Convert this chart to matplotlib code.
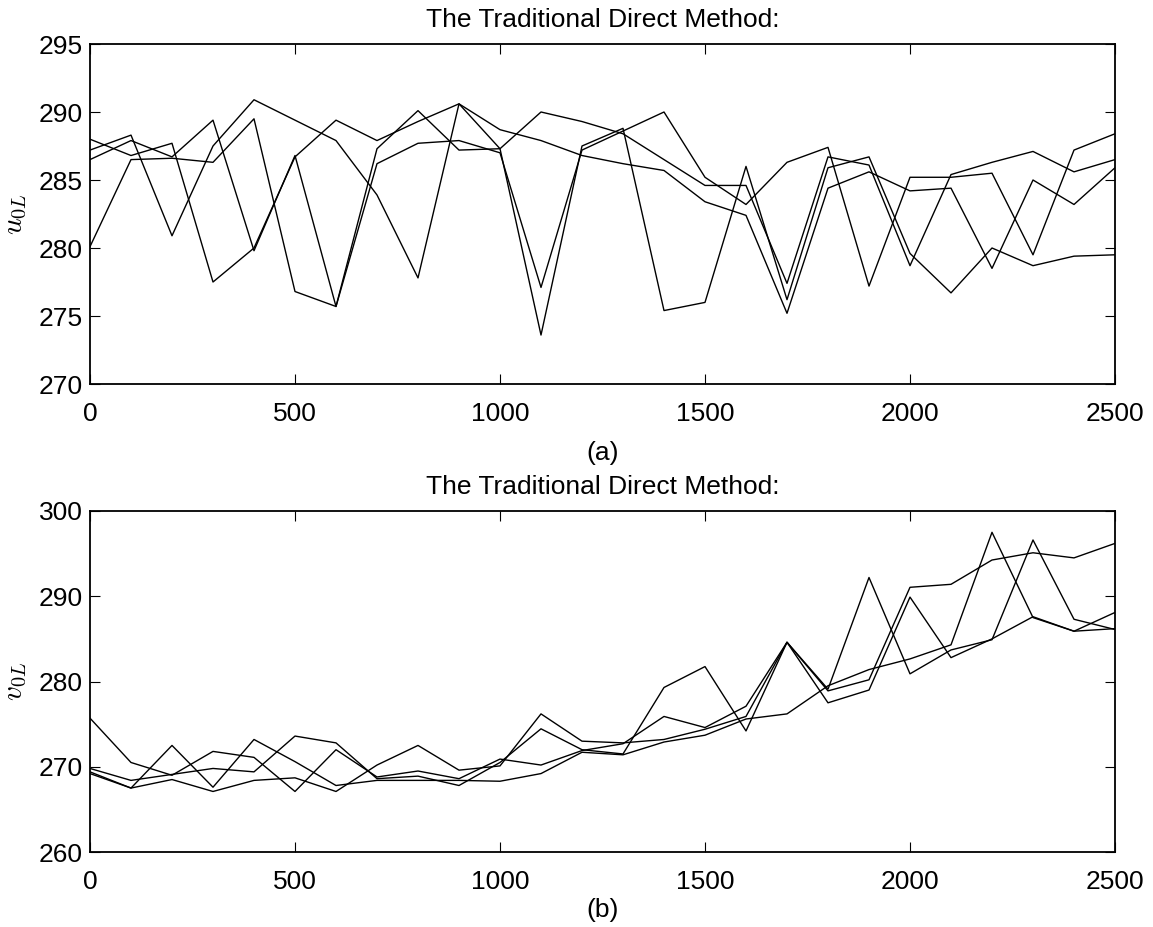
import matplotlib
matplotlib.use("Agg")
import matplotlib.pyplot as plt
import numpy as np

plt.rcParams['font.family'] = ['Liberation Sans', 'DejaVu Sans']
plt.rcParams['mathtext.fontset'] = 'cm'

# sample times
steps = list(range(0, 2600, 100))

# panel (a): u_0L estimates, four runs
u_run1 = [288.0, 286.8, 287.7, 277.5, 280.0, 286.7, 289.4, 287.9, 289.3, 290.6,
          288.7, 287.9, 286.8, 286.2, 285.7, 283.4, 282.4, 275.2, 284.4, 285.6,
          284.2, 284.4, 278.5, 285.0, 283.2, 285.9]
u_run2 = [287.2, 288.3, 280.9, 287.5, 290.9, 289.4, 287.9, 283.9, 277.8, 290.6,
          287.3, 290.0, 289.3, 288.4, 286.5, 284.6, 284.6, 277.4, 286.7, 286.1,
          278.7, 285.4, 286.3, 287.1, 285.6, 286.5]
u_run3 = [286.5, 287.9, 286.7, 289.4, 279.8, 286.8, 275.7, 287.3, 290.1, 287.2,
          287.3, 273.6, 287.5, 288.8, 275.4, 276.0, 286.0, 276.2, 285.9, 286.7,
          279.6, 276.7, 280.0, 278.7, 279.4, 279.5]
u_run4 = [280.1, 286.5, 286.6, 286.3, 289.5, 276.8, 275.7, 286.2, 287.7, 287.9,
          287.0, 277.1, 287.2, 288.6, 290.0, 285.2, 283.2, 286.3, 287.4, 277.2,
          285.2, 285.2, 285.5, 279.5, 287.2, 288.4]

# panel (b): v_0L estimates, four runs
v_run1 = [275.7, 270.5, 269.0, 271.8, 271.1, 267.1, 272.0, 268.8, 269.5, 268.6,
          270.9, 270.2, 271.9, 272.7, 275.9, 274.6, 277.1, 284.6, 279.1, 292.2,
          280.9, 283.7, 284.9, 296.6, 287.3, 286.1]
v_run2 = [269.8, 268.4, 269.1, 269.8, 269.4, 273.6, 272.8, 268.6, 268.9, 267.8,
          270.5, 274.45, 272.0, 271.5, 279.3, 281.75, 274.2, 284.6, 278.9, 280.2,
          291.05, 291.4, 294.25, 295.1, 294.5, 296.2]
v_run3 = [269.4, 267.5, 272.5, 267.6, 273.2, 270.6, 267.8, 268.4, 268.4, 268.4,
          268.3, 269.2, 271.7, 271.4, 272.9, 273.7, 275.6, 276.2, 279.5, 281.4,
          282.65, 284.3, 297.5, 287.5, 285.9, 288.1]
v_run4 = [269.2, 267.5, 268.5, 267.1, 268.4, 268.7, 267.1, 270.2, 272.5, 269.6,
          270.1, 276.2, 273.0, 272.8, 273.2, 274.4, 275.9, 284.6, 277.5, 279.0,
          289.9, 282.8, 285.0, 287.6, 285.9, 286.2]

title_text = "The Traditional Direct Method:"
x_ticks = [0, 500, 1000, 1500, 2000, 2500]
u_ticks = [270, 275, 280, 285, 290, 295]
v_ticks = [260, 270, 280, 290, 300]

W, H = 1153, 927
fig = plt.figure(figsize=(W / 100, H / 100), dpi=100)
ax1 = fig.add_axes([90 / W, 1 - 384 / H, 1025 / W, 340 / H])
ax2 = fig.add_axes([90 / W, 1 - 852 / H, 1025 / W, 341 / H])

FS = 19


def style(ax, runs, yticks, ylim, ylabel, xlabel, xlabelpad):
    for r in runs:
        ax.plot(steps, r, color='black', linewidth=1.0)
    ax.set_xlim(0, 2500)
    ax.set_ylim(*ylim)
    ax.set_xticks(x_ticks)
    ax.set_yticks(yticks)
    ax.tick_params(direction='in', length=7.5, width=0.8, top=True, right=True,
                   labelsize=FS, colors='black')
    ax.tick_params(axis='x', pad=13)
    ax.tick_params(axis='y', pad=5)
    for s in ax.spines.values():
        s.set_linewidth(1.3)
    ax.set_title(title_text, fontsize=FS, pad=12)
    ax.set_ylabel(ylabel, fontsize=FS + 2, labelpad=7)
    ax.set_xlabel(xlabel, fontsize=FS, labelpad=xlabelpad)


style(ax1, [u_run1, u_run2, u_run3, u_run4], u_ticks, (270, 295),
      r'$u_{0L}$', '(a)', 11)
style(ax2, [v_run1, v_run2, v_run3, v_run4], v_ticks, (260, 300),
      r'$v_{0L}$', '(b)', 3)

fig.savefig('out.png', dpi=100)
